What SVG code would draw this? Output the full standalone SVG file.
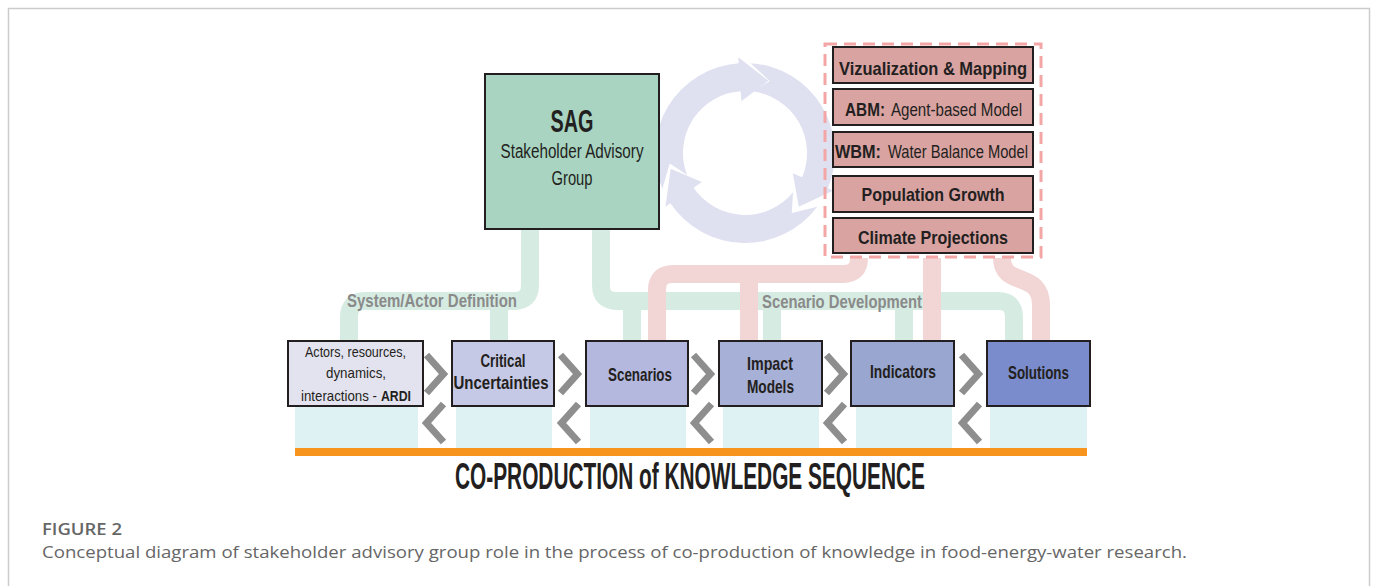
<svg xmlns="http://www.w3.org/2000/svg" width="1375" height="586" viewBox="0 0 1375 586">
<defs>
<style>
.box{stroke:#231f20;stroke-width:2}
.t{font-family:"Liberation Sans Narrow","Liberation Sans",Arial,sans-serif;fill:#231f20}
.b{font-weight:bold}
.g{stroke:#d6ece3;stroke-width:18;fill:none}
.p{stroke:#f2d5d5;stroke-width:18;fill:none}
.chev{stroke:#8e8e8e;stroke-width:7;fill:none;stroke-linejoin:miter}
.cy{fill:#dfe1f1}
.pk{fill:#d9a3a2}
.lab{font-family:"Liberation Sans Narrow","Liberation Sans",Arial,sans-serif;font-weight:bold;fill:#8a8a8a;font-size:19px}
.cap{font-family:"Open Sans","Liberation Sans",Arial,sans-serif;fill:#666666}
</style>
<path id="arc" d="M -59.52 -67.51 A 90 90 0 0 1 83.45 -33.71 L 89.01 -35.96 L 76 0 L 48.21 -19.48 L 57.49 -23.23 A 62 62 0 0 0 -38.87 -48.30 L -33.32 -68.31 Z"/>
</defs>
<rect x="8.5" y="8.5" width="1361" height="620" fill="#ffffff" stroke="#cccccc" stroke-width="1.5"/>

<g id="connectors">
<path class="g" d="M 530 229 V 285 Q 530 301 514 301 H 365 Q 349 301 349 317 V 341"/>
<path class="g" d="M 499 301 V 341"/>
<path class="g" d="M 601 229 V 285 Q 601 301 617 301 H 998 Q 1014 301 1014 317 V 341"/>
<path class="g" d="M 632 301 V 341"/>
<path class="g" d="M 772 301 V 341"/>
<path class="g" d="M 904 301 V 341"/>
<path class="p" d="M 859 258 Q 859 274 843 274 H 673 Q 657 274 657 290 V 341"/>
<path class="p" d="M 749 274 V 341"/>
<path class="p" d="M 932 258 V 341"/>
<path class="p" d="M 1002 258 C 1002 288 1041 270 1041 305 V 341"/>
</g>

<g id="cycle">
<use href="#arc" class="cy" transform="translate(745,153) rotate(-72)"/>
<use href="#arc" class="cy" transform="translate(745,153) rotate(45)"/>
<use href="#arc" class="cy" transform="translate(745,153) rotate(168)"/>
</g>

<text class="lab" x="347" y="307" textLength="170" lengthAdjust="spacingAndGlyphs">System/Actor Definition</text>
<text class="lab" x="762" y="308" textLength="160" lengthAdjust="spacingAndGlyphs">Scenario Development</text>

<g id="sag">
<rect class="box" x="485" y="74" width="174" height="155" fill="#a8d4c1"/>
<text class="t b" x="572" y="132" font-size="31" text-anchor="middle" textLength="43" lengthAdjust="spacingAndGlyphs">SAG</text>
<text class="t" x="572" y="158" font-size="20" text-anchor="middle" textLength="143" lengthAdjust="spacingAndGlyphs">Stakeholder Advisory</text>
<text class="t" x="572" y="185" font-size="20" text-anchor="middle" textLength="41" lengthAdjust="spacingAndGlyphs">Group</text>
</g>

<g id="models">
<rect x="825" y="44" width="216" height="213" fill="none" stroke="#f4a6a6" stroke-width="3" stroke-dasharray="12 7"/>
<g id="viz">
<rect class="box pk" x="833" y="47" width="200" height="36"/>
<text class="t b" x="933" y="75" font-size="18.5" text-anchor="middle" textLength="188" lengthAdjust="spacingAndGlyphs">Vizualization &amp; Mapping</text>
</g>
<g id="abm">
<rect class="box pk" x="833" y="89" width="200" height="36"/>
<text class="t b" x="845" y="116" font-size="18.5" textLength="40" lengthAdjust="spacingAndGlyphs">ABM:</text>
<text class="t" x="891" y="116" font-size="18.5" textLength="131" lengthAdjust="spacingAndGlyphs">Agent-based Model</text>
</g>
<g id="wbm">
<rect class="box pk" x="833" y="132" width="200" height="35"/>
<text class="t b" x="835" y="158" font-size="18.5" textLength="46" lengthAdjust="spacingAndGlyphs">WBM:</text>
<text class="t" x="888" y="158" font-size="18.5" textLength="140" lengthAdjust="spacingAndGlyphs">Water Balance Model</text>
</g>
<g id="pop">
<rect class="box pk" x="833" y="176" width="200" height="36"/>
<text class="t b" x="933" y="201" font-size="18.5" text-anchor="middle" textLength="143" lengthAdjust="spacingAndGlyphs">Population Growth</text>
</g>
<g id="climate">
<rect class="box pk" x="833" y="218" width="200" height="35"/>
<text class="t b" x="933" y="244" font-size="18.5" text-anchor="middle" textLength="150" lengthAdjust="spacingAndGlyphs">Climate Projections</text>
</g>
</g>

<g id="bases" fill="#dff2f3">
<rect x="295" y="406" width="123" height="42"/>
<rect x="456" y="406" width="96" height="42"/>
<rect x="590" y="406" width="96" height="42"/>
<rect x="723" y="406" width="96" height="42"/>
<rect x="856" y="406" width="96" height="42"/>
<rect x="990" y="406" width="97" height="42"/>
</g>
<rect x="295" y="448" width="792" height="8" fill="#f7941d"/>

<g id="ardi">
<rect class="box" x="288" y="341" width="135" height="65" fill="#e3e3ef"/>
<text class="t" x="355.5" y="357" font-size="15" text-anchor="middle" textLength="101" lengthAdjust="spacingAndGlyphs">Actors, resources,</text>
<text class="t" x="356" y="377.5" font-size="15" text-anchor="middle" textLength="60" lengthAdjust="spacingAndGlyphs">dynamics,</text>
<text class="t" x="377" y="400.5" font-size="15" text-anchor="end" textLength="76" lengthAdjust="spacingAndGlyphs">interactions -</text>
<text class="t b" x="381" y="400.5" font-size="15" textLength="30" lengthAdjust="spacingAndGlyphs">ARDI</text>
</g>
<g id="critical">
<rect class="box" x="452" y="341" width="102" height="65" fill="#c6c9e5"/>
<text class="t b" x="503" y="367" font-size="19" text-anchor="middle" textLength="45" lengthAdjust="spacingAndGlyphs">Critical</text>
<text class="t b" x="501" y="389" font-size="19" text-anchor="middle" textLength="95" lengthAdjust="spacingAndGlyphs">Uncertainties</text>
</g>
<g id="scenarios">
<rect class="box" x="586" y="341" width="102" height="65" fill="#b4b8df"/>
<text class="t b" x="640" y="381" font-size="19" text-anchor="middle" textLength="64" lengthAdjust="spacingAndGlyphs">Scenarios</text>
</g>
<g id="impact">
<rect class="box" x="719" y="341" width="103" height="65" fill="#a7b0d6"/>
<text class="t b" x="770" y="370" font-size="19" text-anchor="middle" textLength="46" lengthAdjust="spacingAndGlyphs">Impact</text>
<text class="t b" x="770.5" y="393" font-size="19" text-anchor="middle" textLength="47" lengthAdjust="spacingAndGlyphs">Models</text>
</g>
<g id="indicators">
<rect class="box" x="851" y="341" width="103" height="65" fill="#98a6d0"/>
<text class="t b" x="903" y="378" font-size="19" text-anchor="middle" textLength="66" lengthAdjust="spacingAndGlyphs">Indicators</text>
</g>
<g id="solutions">
<rect class="box" x="987" y="341" width="103" height="65" fill="#7a8ccb"/>
<text class="t b" x="1038.5" y="379" font-size="19" text-anchor="middle" textLength="61" lengthAdjust="spacingAndGlyphs">Solutions</text>
</g>

<g id="chevrons">
<polyline class="chev" points="426.5,355 443.5,374 426.5,393"/>
<polyline class="chev" points="560.5,355 577.5,374 560.5,393"/>
<polyline class="chev" points="693.5,355 710.5,374 693.5,393"/>
<polyline class="chev" points="826.5,355 843.5,374 826.5,393"/>
<polyline class="chev" points="961.5,355 978.5,374 961.5,393"/>
<polyline class="chev" points="443.5,404 426.5,423 443.5,442"/>
<polyline class="chev" points="578.5,404 561.5,423 578.5,442"/>
<polyline class="chev" points="711.5,404 694.5,423 711.5,442"/>
<polyline class="chev" points="844.5,404 827.5,423 844.5,442"/>
<polyline class="chev" points="979.5,404 962.5,423 979.5,442"/>
</g>

<text class="t b" x="690" y="489" font-size="37" text-anchor="middle" textLength="470" lengthAdjust="spacingAndGlyphs">CO-PRODUCTION of KNOWLEDGE SEQUENCE</text>

<text class="cap" x="42" y="535" font-size="16" font-weight="600" textLength="80" lengthAdjust="spacingAndGlyphs">FIGURE 2</text>
<text class="cap" x="42" y="558" font-size="17" textLength="1145" lengthAdjust="spacingAndGlyphs">Conceptual diagram of stakeholder advisory group role in the process of co-production of knowledge in food-energy-water research.</text>
</svg>
